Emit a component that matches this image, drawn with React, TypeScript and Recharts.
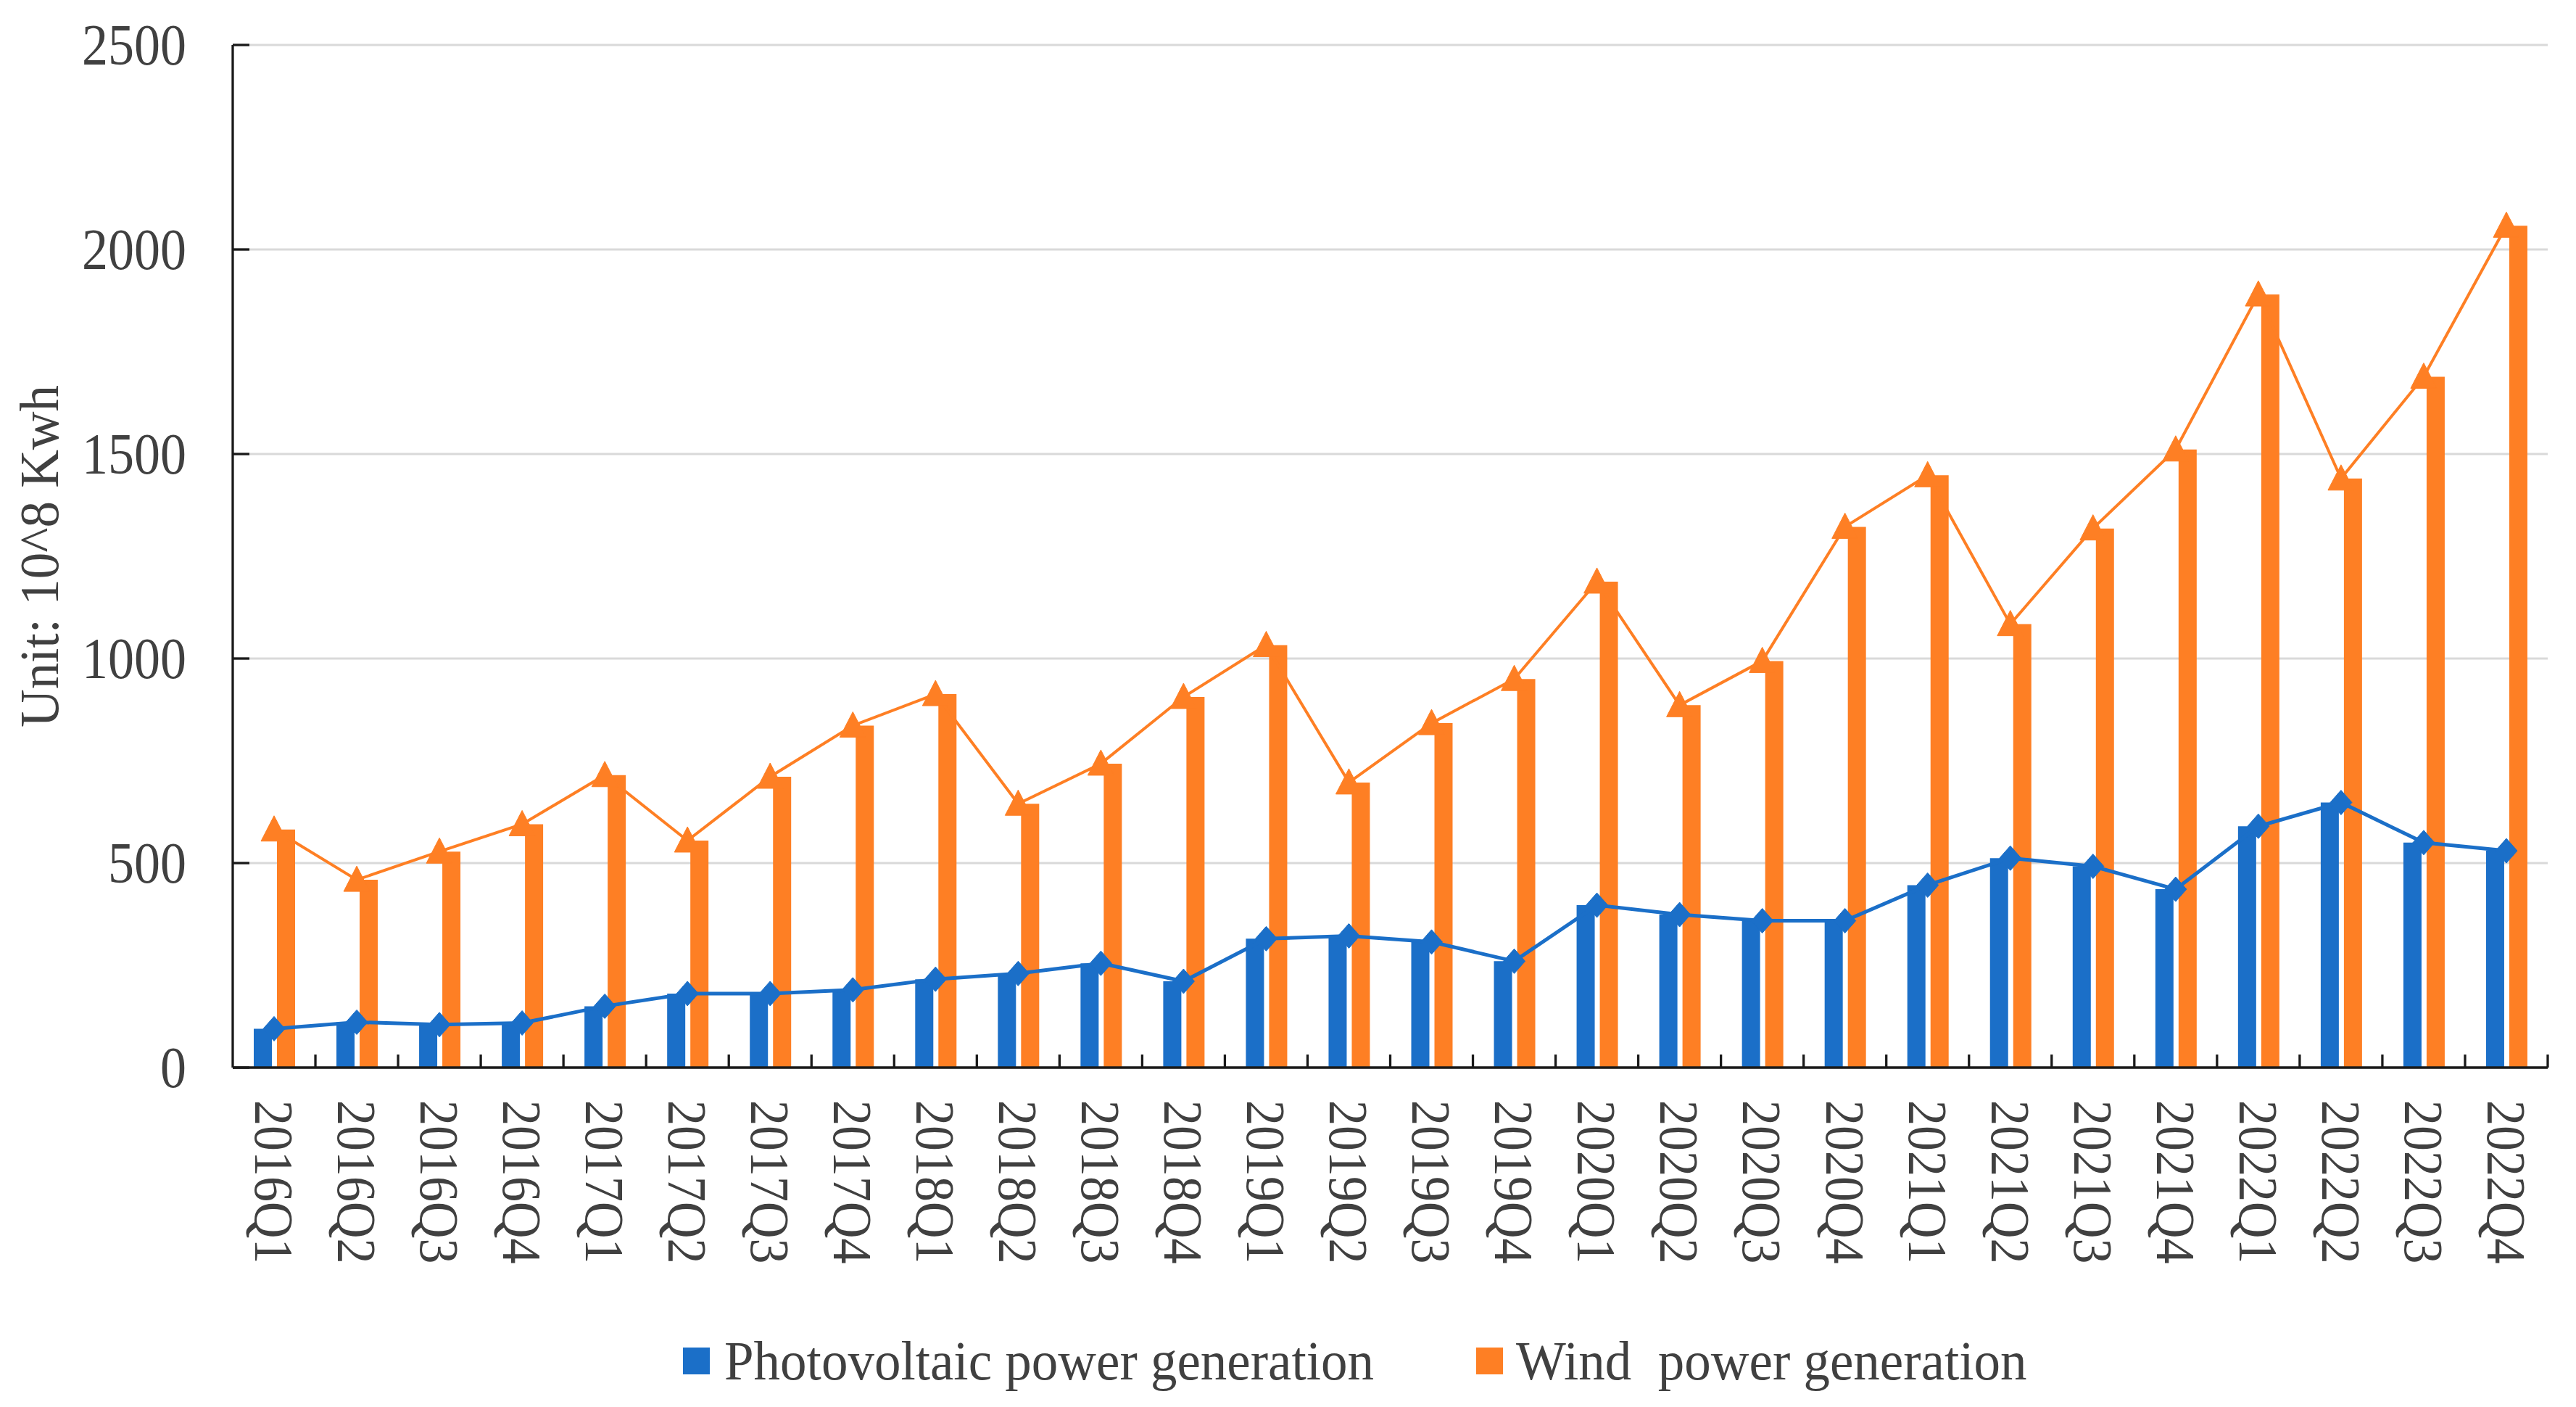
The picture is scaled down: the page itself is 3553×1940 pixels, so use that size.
import React from 'react';
import { ComposedChart, Bar, Line, XAxis, YAxis, CartesianGrid, Legend } from 'recharts';

const quarters = [
  '2016Q1', '2016Q2', '2016Q3', '2016Q4',
  '2017Q1', '2017Q2', '2017Q3', '2017Q4',
  '2018Q1', '2018Q2', '2018Q3', '2018Q4',
  '2019Q1', '2019Q2', '2019Q3', '2019Q4',
  '2020Q1', '2020Q2', '2020Q3', '2020Q4',
  '2021Q1', '2021Q2', '2021Q3', '2021Q4',
  '2022Q1', '2022Q2', '2022Q3', '2022Q4',
];

const photovoltaic = [
  95, 111, 105, 109,
  150, 181, 181, 190,
  216, 230, 255, 211,
  315, 322, 307, 260,
  397, 374, 359, 359,
  446, 512, 492, 436,
  590, 648, 550, 530,
];

const wind = [
  582, 459, 528, 595,
  715, 555, 711, 836,
  913, 645, 743, 906,
  1033, 697, 842, 950,
  1188, 886, 994, 1322,
  1448, 1084, 1318, 1511,
  1890, 1440, 1689, 2058,
];

const yTicks = [0, 500, 1000, 1500, 2000, 2500];

const seriesNames = ['Photovoltaic power generation', 'Wind  power generation'];
const yAxisTitle = 'Unit: 10^8 Kwh';

const data = quarters.map((q, i) => ({ q, pv: photovoltaic[i], wind: wind[i] }));

const BLUE = '#1B6FC8';
const ORANGE = '#FE7F24';
const AXIS = '#1a1a1a';
const TEXT = '#404040';
const FONT = '"Liberation Serif", "Times New Roman", Times, serif';

const W = 3553;
const H = 1940;

function XTick(props: any) {
  const { x, y, payload } = props;
  const half = payload && typeof payload.offset === 'number' && payload.offset > 0 ? payload.offset : 57;
  return (
    <g>
      <line x1={x + half} x2={x + half} y1={y} y2={y - 18} stroke={AXIS} strokeWidth={3.3} />
      <text
        x={0}
        y={0}
        transform={`translate(${x},${y + 45}) rotate(90) scale(1,1.1)`}
        textAnchor="start"
        dominantBaseline="central"
        fontSize={70}
        fill={TEXT}
        fontFamily={FONT}
      >
        {payload.value}
      </text>
    </g>
  );
}

function YTick(props: any) {
  const { x, y, payload } = props;
  return (
    <text
      x={0}
      y={0}
      transform={`translate(${x},${y}) scale(1,1.12)`}
      textAnchor="end"
      dominantBaseline="central"
      fontSize={72}
      fill={TEXT}
      fontFamily={FONT}
    >
      {payload.value}
    </text>
  );
}

function renderDiamond(p: any) {
  const { cx, cy, index } = p;
  if (cx == null || cy == null) return <g key={`d-${index}`} />;
  return (
    <polygon
      key={`d-${index}`}
      points={`${cx},${cy - 17} ${cx + 15},${cy} ${cx},${cy + 17} ${cx - 15},${cy}`}
      fill={BLUE}
      stroke={BLUE}
      strokeWidth={1}
    />
  );
}

function renderTriangle(p: any) {
  const { cx, cy, index } = p;
  if (cx == null || cy == null) return <g key={`t-${index}`} />;
  return (
    <polygon
      key={`t-${index}`}
      points={`${cx},${cy - 19} ${cx + 18},${cy + 16} ${cx - 18},${cy + 16}`}
      fill={ORANGE}
      stroke={ORANGE}
      strokeWidth={1}
    />
  );
}

function renderYTitle(props: any) {
  const vb = props && props.viewBox && props.viewBox.height ? props.viewBox : { x: 0, y: 62, width: 321, height: 1410 };
  const cy = vb.y + vb.height / 2;
  const cx = 54;
  return (
    <text
      x={0}
      y={0}
      transform={`translate(${cx},${cy}) rotate(-90) scale(1,1.05)`}
      textAnchor="middle"
      dominantBaseline="central"
      fontSize={73}
      fill={TEXT}
      fontFamily={FONT}
    >
      {yAxisTitle}
    </text>
  );
}

function renderLegend() {
  const common: React.CSSProperties = {
    position: 'absolute',
    top: 0,
    whiteSpace: 'pre',
    lineHeight: '90px',
    fontSize: 73,
    fontFamily: FONT,
    color: TEXT,
    transform: 'scaleY(1.05)',
    transformOrigin: '0 50%',
  };
  return (
    <div style={{ position: 'relative', width: W, height: 90 }}>
      <div style={{ position: 'absolute', left: 942, top: 26, width: 37, height: 37, background: BLUE }} />
      <span style={{ ...common, left: 999 }}>{seriesNames[0]}</span>
      <div style={{ position: 'absolute', left: 2036, top: 26, width: 37, height: 37, background: ORANGE }} />
      <span style={{ ...common, left: 2091 }}>{seriesNames[1]}</span>
    </div>
  );
}

export default function App() {
  return (
    <div style={{ position: 'absolute', left: 0, top: 0, width: W, height: H, background: '#ffffff' }}>
      <ComposedChart
        width={W}
        height={H}
        data={data}
        margin={{ top: 62, right: 39, bottom: 0, left: 0 }}
        barGap={7}
      >
        <CartesianGrid vertical={false} stroke="#d9d9d9" strokeWidth={3} />
        <XAxis
          dataKey="q"
          interval={0}
          height={468}
          tickSize={0}
          tickMargin={0}
          tickLine={false}
          axisLine={{ stroke: AXIS, strokeWidth: 3.3 }}
          tick={<XTick />}
        />
        <YAxis
          domain={[0, 2500]}
          ticks={yTicks}
          interval={0}
          width={321}
          tickSize={-23}
          tickMargin={87}
          axisLine={{ stroke: AXIS, strokeWidth: 3.3 }}
          tickLine={{ stroke: AXIS, strokeWidth: 3.3 }}
          tick={<YTick />}
          label={{ content: renderYTitle }}
        />
        <Legend
          layout="horizontal"
          verticalAlign="middle"
          align="center"
          content={renderLegend}
          wrapperStyle={{ top: 1832, left: 0, width: W, height: 90 }}
        />
        <Bar dataKey="pv" name={seriesNames[0]} fill={BLUE} barSize={25} isAnimationActive={false} legendType="square" />
        <Bar dataKey="wind" name={seriesNames[1]} fill={ORANGE} barSize={25} isAnimationActive={false} legendType="square" />
        <Line
          dataKey="pv"
          name={seriesNames[0]}
          stroke={BLUE}
          strokeWidth={5}
          dot={renderDiamond}
          activeDot={false}
          isAnimationActive={false}
          legendType="none"
        />
        <Line
          dataKey="wind"
          name={seriesNames[1]}
          stroke={ORANGE}
          strokeWidth={4}
          dot={renderTriangle}
          activeDot={false}
          isAnimationActive={false}
          legendType="none"
        />
      </ComposedChart>
    </div>
  );
}
